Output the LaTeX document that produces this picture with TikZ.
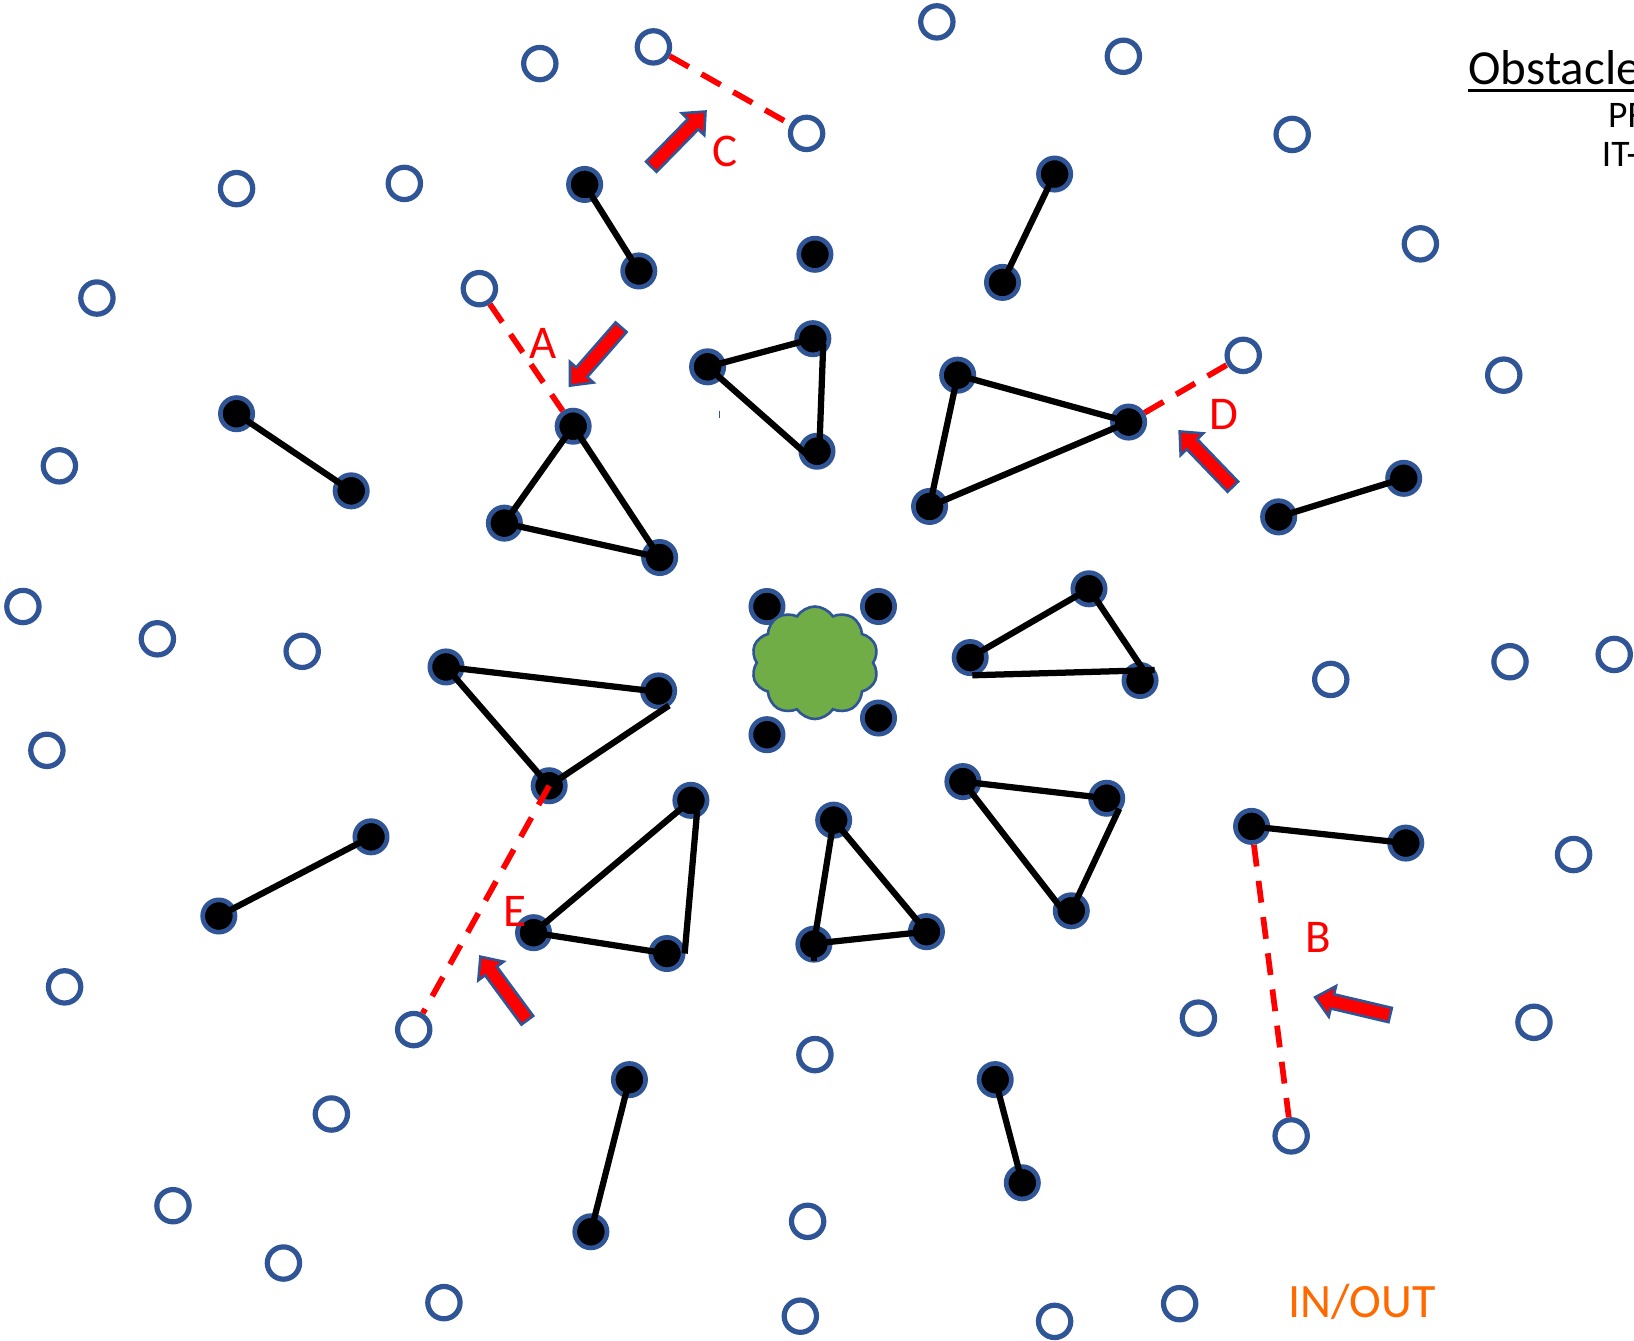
\documentclass[tikz,border=0pt]{standalone}
\usepackage{fontspec}
\setmainfont{Carlito}
\usetikzlibrary{shapes.symbols,calc}
\definecolor{cblue}{HTML}{2F5597}
\definecolor{cgreen}{HTML}{70AD47}
\definecolor{corange}{HTML}{FF6A00}
\newcommand\blockarrow[2]{%
  \draw[blockarr] let \p1=($(#2)-(#1)$), \n1={veclen(\x1,\y1)}, \n2={atan2(\y1,\x1)} in
  [shift={(#1)}, rotate=\n2]
  (0pt,-7pt) -- ({\n1-17pt},-7pt) -- ({\n1-17pt},-15pt) -- (\n1,0pt) --
  ({\n1-17pt},15pt) -- ({\n1-17pt},7pt) -- (0pt,7pt) -- cycle;}
\begin{document}
\begin{tikzpicture}[x=1pt,y=-1pt,
  opendot/.style={circle,draw=cblue,line width=5pt,fill=white,minimum size=31pt,inner sep=0pt},
  fulldot/.style={circle,draw=cblue,line width=4.5pt,fill=black,minimum size=31pt,inner sep=0pt},
  link/.style={line width=6pt,black,line join=miter},
  reddash/.style={red,line width=5.5pt,dash pattern=on 21pt off 14pt},
  redlabel/.style={text=red,font=\fontsize{45}{54}\selectfont,inner sep=0pt},
  blockarr/.style={fill=red,draw=cblue,line width=2.5pt,line join=miter}
]
\useasboundingbox (0,0) rectangle (1568,1286);
\clip (0,0) rectangle (1568,1286);
\fill[white] (0,0) rectangle (1568,1286);

% open circles
\foreach \n/\x/\y in {1/518/61, 2/627/45, 3/899/21, 4/1078/54, 5/774/128, 6/1240/129,
  7/227/181, 8/388/176, 9/1363/234, 10/93/286, 11/460/277, 12/1193/341, 13/1443/360,
  14/57/447, 15/22/582, 16/151/613, 17/290/625, 18/1277/652, 19/1449/635, 20/1549/628,
  21/45/720, 22/1510/820, 23/62/947, 24/397/988, 25/1150/977, 26/1472/981, 27/782/1012,
  28/318/1069, 29/1239/1090, 30/166/1157, 31/775/1172, 32/272/1212, 33/426/1250,
  34/768/1263, 35/1012/1268, 36/1132/1251}
  \node[opendot] (o\n) at (\x,\y) {};

% filled dots
\foreach \n/\x/\y in {s1a/561/177, s1b/613/260, s2a/1012/167, s2b/962/271,
  s3a/227/397, s3b/337/471, s4a/1347/459, s4b/1227/496, s5a/356/803, s5b/210/879,
  s6a/1201/793, s6b/1349/809, s7a/604/1036, s7b/567/1182, s8a/955/1036, s8b/981/1135,
  d0/782/244,
  t1a/679/352, t1b/780/325, t1c/784/433,
  t2a/550/409, t2b/484/502, t2c/633/535,
  t3a/919/360, t3b/1083/405, t3c/892/486,
  t4a/1045/565, t4b/931/631, t4c/1094/653,
  t5a/428/640, t5b/632/663, t5c/527/754,
  t6a/663/768, t6b/512/895, t6c/640/915,
  t7a/800/787, t7b/781/906, t7c/889/894,
  t8a/924/750, t8b/1062/766, t8c/1028/874,
  c1/736/582, c2/843/582, c3/736/705, c4/843/689}
  \node[fulldot] (\n) at (\x,\y) {};

% black links
\foreach \a/\b in {s1a/s1b, s2a/s2b, s3a/s3b, s4a/s4b, s5a/s5b, s6a/s6b, s7a/s7b, s8a/s8b}
  \draw[link] (\a.center) -- (\b.center);
\draw[link] (t1a.center) -- (t1b.center);
\draw[link] (t1b.center) ++(10,5) -- ($(t1c.center)+(2,4)$);
\draw[link] (t1a.center) -- ($(t1c.center)+(-2,10)$);
\draw[link] (t2a.center) -- (t2b.center) -- (t2c.center) -- cycle;
\draw[link] (t3a.center) -- (t3b.center) -- (t3c.center) -- cycle;
\draw[link] (t4b.center) -- (t4a.center) -- ($(t4c.center)+(10,0)$);
\draw[link] ($(t4b.center)+(2,17)$) -- ($(t4c.center)+(14,-10)$);
\draw[link] (t5a.center) -- ($(t5b.center)+(10,2)$);
\draw[link] ($(t5b.center)+(10,14)$) -- (t5c.center) -- (t5a.center);
\draw[link] (t6b.center) -- (t6a.center) ++(6,10) -- ($(t6c.center)+(17,0)$);
\draw[link] (t6b.center) -- (t6c.center);
\draw[link] (t7b.center) -- (t7a.center) -- (t7c.center);
\draw[link] ($(t7b.center)+(-5,0)$) -- (t7c.center);
\draw[link] (t7b.center) ++(0,4) -- ++(0,12);
\draw[link] (t8b.center) -- (t8a.center) -- ($(t8c.center)+(0,10)$);
\draw[link] ($(t8b.center)+(12,10)$) -- (t8c.center);

% red dashed
\draw[reddash] (o11) -- (t2a);
\draw[reddash] (o2) -- (o5);
\draw[reddash] (t3b) -- (o12);
\draw[reddash] (s6a) -- (o29);
\draw[reddash] (t5c.center) -- (o24);

% cloud
\node[cloud, cloud puffs=10, cloud puff arc=115, aspect=1.1, draw=cblue, line width=2.5pt,
  fill=cgreen, minimum width=122pt, minimum height=108pt, inner sep=0pt] (cl) at (782,636) {};

% stray mark
\coordinate (m1) at (690,394); \coordinate (m2) at (690,401);
\draw[cblue, line width=1pt] (m1) -- (m2);

% block arrows
\coordinate (cT) at (625,160); \coordinate (cH) at (677,107);
\coordinate (aT) at (596,314); \coordinate (aH) at (547,370);
\coordinate (dT) at (1183,467); \coordinate (dH) at (1132,414);
\coordinate (eT) at (506,979); \coordinate (eH) at (461,918);
\coordinate (bT) at (1334,974); \coordinate (bH) at (1262,957);
\blockarrow{cT}{cH}
\blockarrow{aT}{aH}
\blockarrow{dT}{dH}
\blockarrow{eT}{eH}
\blockarrow{bT}{bH}

% labels
\node[redlabel] (lc) at (696,145) {C};
\node[redlabel] (la) at (521,330) {A};
\node[redlabel] (ld) at (1174,398) {D};
\node[redlabel] (le) at (494,875) {E};
\node[redlabel] (lb) at (1265,900) {B};

\node[text=corange, font=\fontsize{46}{55}\selectfont, inner sep=0pt] (io) at (1307,1249) {IN/OUT};

\node[anchor=base west, inner sep=0pt, font=\fontsize{47}{56}\selectfont] (ob) at (1409,81.5) {Obstacle};
\draw[line width=2.5pt] ($(ob.base west)+(0,5.5)$) -- ($(ob.base east)+(0,5.5)$);
\node[anchor=base west, inner sep=0pt, font=\fontsize{36}{43}\selectfont] (pf) at (1543,122) {PF};
\node[anchor=base west, inner sep=0pt, font=\fontsize{36}{43}\selectfont] (it) at (1537,160) {IT-};
\end{tikzpicture}
\end{document}
